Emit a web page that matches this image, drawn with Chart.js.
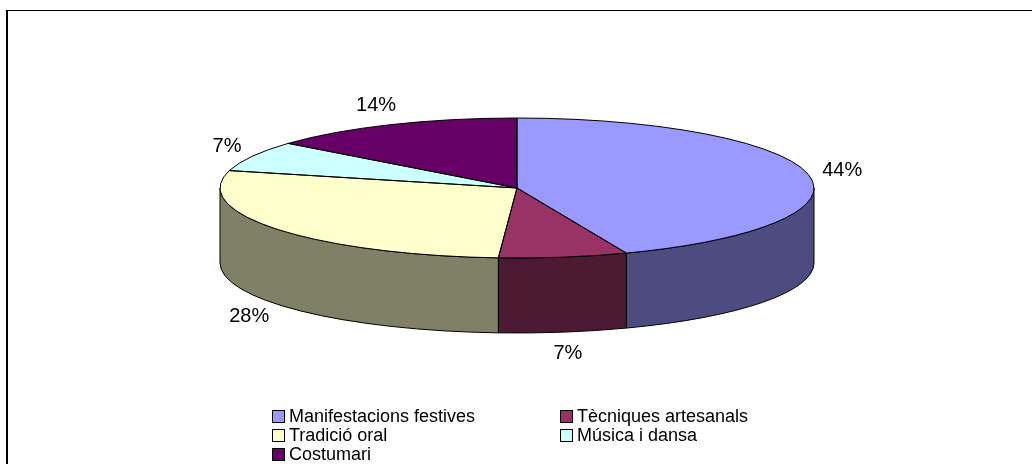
<!DOCTYPE html>
<html>
<head>
<meta charset="utf-8">
<title>Pie 3D</title>
<script src="https://cdn.jsdelivr.net/npm/chart.js@4"></script>
<style>
  html, body { margin: 0; padding: 0; background: #fff; overflow: hidden; }
  #wrap { position: relative; width: 1032px; height: 464px; overflow: hidden; }
  #frame { position: absolute; left: 6px; top: 10px; width: 2000px; height: 1000px;
           border-left: 2px solid #000; border-top: 1px solid #000; }
  #chart-pie { position: absolute; left: 0; top: 0; }
  #legend { position: absolute; left: 272px; top: 407px; display: grid;
            grid-template-columns: 288px auto;
            font: 18px "Liberation Sans", Arial, sans-serif; color: #000; }
  .item { display: flex; align-items: center; height: 19px; white-space: nowrap; }
  .box { width: 11px; height: 11px; border: 1px solid #000; margin-right: 4px; flex: none; }
</style>
</head>
<body>
<div id="wrap">
  <div id="frame"></div>
  <canvas id="chart-pie" width="1032" height="464"></canvas>
  <div id="legend"></div>
</div>
<script>
const categories = ['Manifestacions festives', 'Tècniques artesanals', 'Tradició oral', 'Música i dansa', 'Costumari']
const shares = [44, 7, 28, 7, 14]
const top_colors = ['#9999FF', '#993366', '#FFFFCC', '#CCFFFF', '#660066']
const side_colors = ['#4C4C80', '#4C1A33', '#808066', '#668080', '#330033']

// squash factor of the top face and thickness of the disc
const TILT = 70 / 297
const DEPTH = 75
const LABEL_GAP = 14
const total = shares.reduce((a, b) => a + b, 0)

const pie_3d = {
  id: 'pie3d',
  beforeDatasetsDraw(chart) {
    const ctx = chart.ctx
    const arcs = chart.getDatasetMeta(0).data
    ctx.save()
    ctx.lineWidth = 1
    ctx.strokeStyle = '#000'
    // side walls: only the front half of the disc is visible
    arcs.forEach((arc, i) => {
      const {x, y, startAngle, endAngle, outerRadius} = arc
      const a0 = Math.max(startAngle, 0)
      const a1 = Math.min(endAngle, Math.PI)
      if (a1 <= a0) return
      const ry = outerRadius * TILT
      ctx.beginPath()
      ctx.ellipse(x, y, outerRadius, ry, 0, a0, a1)
      ctx.ellipse(x, y + DEPTH, outerRadius, ry, 0, a1, a0, true)
      ctx.closePath()
      ctx.fillStyle = side_colors[i]
      ctx.fill()
      ctx.stroke()
    })
    ctx.restore()
    // squash the pie itself into the top face
    const cy = arcs[0].y
    ctx.save()
    ctx.translate(0, cy)
    ctx.scale(1, TILT)
    ctx.translate(0, -cy)
  },
  afterDatasetsDraw(chart) {
    const ctx = chart.ctx
    ctx.restore()
    const arcs = chart.getDatasetMeta(0).data
    ctx.save()
    ctx.lineWidth = 1
    ctx.strokeStyle = '#000'
    arcs.forEach(arc => {
      const {x, y, startAngle, endAngle, outerRadius} = arc
      ctx.beginPath()
      ctx.moveTo(x, y)
      ctx.ellipse(x, y, outerRadius, outerRadius * TILT, 0, startAngle, endAngle)
      ctx.closePath()
      ctx.stroke()
    })
    // percentage labels
    ctx.font = '20px "Liberation Sans", Arial, sans-serif'
    ctx.fillStyle = '#000'
    ctx.textAlign = 'center'
    ctx.textBaseline = 'middle'
    arcs.forEach((arc, i) => {
      const {x, y, startAngle, endAngle, outerRadius} = arc
      const mid = (startAngle + endAngle) / 2
      const c = Math.cos(mid), s = Math.sin(mid)
      const text = Math.round(shares[i] / total * 100) + '%'
      const w = ctx.measureText(text).width
      const h = 15
      const ax = x + outerRadius * c
      let ay = y + outerRadius * TILT * s
      if (s > 0) ay += DEPTH
      ctx.fillText(text, ax + c * (LABEL_GAP + w / 2), ay + s * (LABEL_GAP + h / 2))
    })
    ctx.restore()
  }
}

function make_chart(){
  const canvas = document.getElementById('chart-pie')
  return new Chart(canvas, {
    type: 'pie',
    data: {
      labels: categories,
      datasets: [{
        data: shares,
        backgroundColor: top_colors,
        borderWidth: 0,
        radius: 297,
        clip: false,
      }]
    },
    options: {
      responsive: false,
      animation: false,
      events: [],
      layout: { padding: { left: 2, right: 0, top: 0, bottom: 88 } },
      plugins: {
        legend: { display: false },
        tooltip: { enabled: false },
      },
    },
    plugins: [pie_3d]
  })
}

function make_legend(){
  const box = document.getElementById('legend')
  categories.forEach((name, i) => {
    const item = document.createElement('div')
    item.className = 'item'
    const swatch = document.createElement('span')
    swatch.className = 'box'
    swatch.style.background = top_colors[i]
    item.appendChild(swatch)
    item.appendChild(document.createTextNode(name))
    box.appendChild(item)
  })
}

make_legend()
let chart = make_chart()
</script>
</body>
</html>
